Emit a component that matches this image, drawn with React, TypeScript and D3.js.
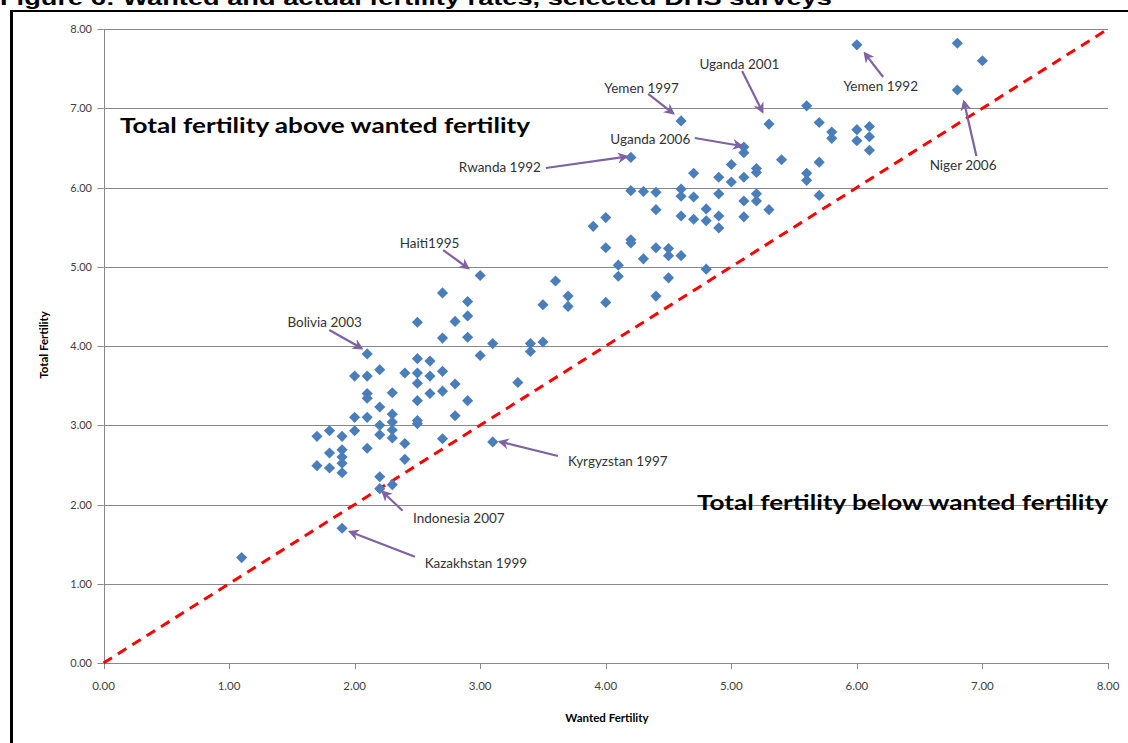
import React from "react";
import * as d3 from "d3";

// ---------- data ----------
const wantedFertility: number[] = [
  1.1,
  1.7, 1.7,
  1.8, 1.8, 1.8,
  1.9, 1.9, 1.9, 1.9, 1.9, 1.9,
  2.0, 2.0, 2.0,
  2.1, 2.1, 2.1, 2.1, 2.1, 2.1,
  2.2, 2.2, 2.2, 2.2, 2.2, 2.2,
  2.3, 2.3, 2.3, 2.3, 2.3, 2.3,
  2.4, 2.4, 2.4,
  2.5, 2.5, 2.5, 2.5, 2.5, 2.5, 2.5,
  2.6, 2.6, 2.6,
  2.7, 2.7, 2.7, 2.7, 2.7,
  2.8, 2.8, 2.8,
  2.9, 2.9, 2.9, 2.9,
  3.0, 3.0,
  3.1, 3.1,
  3.3,
  3.4, 3.4,
  3.5, 3.5,
  3.6,
  3.7, 3.7,
  3.9,
  4.0, 4.0, 4.0,
  4.1, 4.1,
  4.2, 4.2, 4.2, 4.2,
  4.3, 4.3,
  4.4, 4.4, 4.4, 4.4,
  4.5, 4.5, 4.5,
  4.6, 4.6, 4.6, 4.6, 4.6,
  4.7, 4.7, 4.7,
  4.8, 4.8, 4.8,
  4.9, 4.9, 4.9, 4.9,
  5.0, 5.0,
  5.1, 5.1, 5.1, 5.1, 5.1,
  5.2, 5.2, 5.2, 5.2,
  5.3, 5.3,
  5.4,
  5.6, 5.6, 5.6,
  5.7, 5.7, 5.7,
  5.8, 5.8,
  6.0, 6.0, 6.0,
  6.1, 6.1, 6.1,
  6.8, 6.8,
  7.0,
];

const totalFertility: number[] = [
  1.33,
  2.86, 2.49,
  2.93, 2.65, 2.46,
  2.86, 2.69, 2.60, 2.52, 2.40, 1.70,
  3.62, 3.10, 2.93,
  3.90, 3.62, 3.40, 3.34, 3.10, 2.71,
  3.70, 3.23, 3.00, 2.88, 2.35, 2.20,
  3.41, 3.14, 3.04, 2.94, 2.84, 2.25,
  3.66, 2.77, 2.57,
  4.30, 3.84, 3.66, 3.53, 3.31, 3.06, 3.02,
  3.81, 3.62, 3.40,
  4.67, 4.10, 3.68, 3.43, 2.83,
  4.31, 3.52, 3.12,
  4.56, 4.38, 4.11, 3.31,
  4.89, 3.88,
  4.03, 2.79,
  3.54,
  4.03, 3.93,
  4.52, 4.05,
  4.82,
  4.63, 4.50,
  5.51,
  5.62, 5.24, 4.55,
  5.02, 4.88,
  6.38, 5.96, 5.34, 5.30,
  5.95, 5.10,
  5.94, 5.72, 5.24, 4.63,
  5.23, 5.14, 4.86,
  6.84, 5.98, 5.89, 5.64, 5.14,
  6.18, 5.88, 5.60,
  5.73, 5.58, 4.97,
  6.13, 5.92, 5.64, 5.49,
  6.29, 6.07,
  6.51, 6.44, 6.13, 5.83, 5.63,
  6.24, 6.19, 5.92, 5.83,
  6.80, 5.72,
  6.35,
  7.03, 6.18, 6.09,
  6.82, 6.32, 5.90,
  6.70, 6.62,
  7.80, 6.73, 6.59,
  6.77, 6.64, 6.47,
  7.82, 7.23,
  7.60,
];

const xTicks: number[] = [0, 1, 2, 3, 4, 5, 6, 7, 8];
const yTicks: number[] = [0, 1, 2, 3, 4, 5, 6, 7, 8];

// survey labels: label, text anchor (data units), arrow start and arrow tip (data units)
const annotLabels: string[] = [
  "Haiti1995", "Bolivia 2003", "Yemen 1997", "Uganda 2001", "Uganda 2006",
  "Rwanda 1992", "Yemen 1992", "Niger 2006", "Kyrgyzstan 1997",
  "Indonesia 2007", "Kazakhstan 1999",
];
const annotText: [number, number][] = [
  [2.597, 5.237], [1.761, 4.236], [4.285, 7.196], [5.064, 7.492], [4.355, 6.549],
  [3.157, 6.196], [6.19, 7.214], [6.846, 6.221], [4.096, 2.486],
  [2.83, 1.767], [2.966, 1.199],
];
const annotFrom: [number, number][] = [
  [2.705, 5.211], [1.798, 4.202], [4.338, 7.18], [5.086, 7.47], [4.709, 6.625],
  [3.523, 6.246], [6.209, 7.394], [6.952, 6.397], [3.619, 2.612],
  [2.382, 1.922], [2.48, 1.341],
];
const annotTo: [number, number][] = [
  [2.904, 4.981], [2.056, 3.971], [4.537, 6.936], [5.248, 6.956], [5.081, 6.524],
  [4.166, 6.389], [6.063, 7.693], [6.853, 7.083], [3.157, 2.792],
  [2.223, 2.161], [1.963, 1.657],
];

const titleText = "Figure 6: Wanted and actual fertility rates, selected DHS surveys";
const aboveText = "Total fertility above wanted fertility";
const belowText = "Total fertility below wanted fertility";
const xTitle = "Wanted Fertility";
const yTitle = "Total Fertility";

// ---------- chart ----------
const W = 1128;
const H = 743;
const FONT = "Lato, 'Open Sans', sans-serif";

export default function App() {
  const x = d3.scaleLinear().domain([0, 8]).range([103.5, 1108]);
  const y = d3.scaleLinear().domain([0, 8]).range([663, 29]);
  const fmt = d3.format(".2f");
  const diamond = d3.symbol().type(d3.symbolSquare).size(62)() as string;
  const refLine = d3.line<number>().x((d) => x(d)).y((d) => y(d))([0, 8]) as string;

  const gridColor = "#888888";
  const arrowColor = "#7e62a1";

  return (
    <div style={{ position: "absolute", left: 0, top: 0, width: W, height: H, overflow: "hidden", background: "#fff" }}>
      <svg width={W} height={H} style={{ display: "block" }}>
        <defs>
          <marker id="ah" viewBox="0 0 10 10" refX="8" refY="5" markerWidth="5" markerHeight="5" orient="auto" markerUnits="strokeWidth">
            <path d="M0,0 L10,5 L0,10 L3,5 Z" fill={arrowColor} />
          </marker>
        </defs>

        {/* clipped figure title */}
        <text x={0} y={5} fontFamily="'Liberation Sans', Arial, sans-serif" fontWeight="bold" fontSize={21}
          textLength={832} lengthAdjust="spacingAndGlyphs" fill="#000">{titleText}</text>

        {/* frame */}
        <line x1={10} x2={W} y1={11} y2={11} stroke="#000" strokeWidth={2} />
        <line x1={11.5} x2={11.5} y1={10} y2={H} stroke="#000" strokeWidth={3} />

        {/* gridlines */}
        {yTicks.filter((t) => t > 0).map((t) => (
          <line key={"g" + t} x1={x(0)} x2={x(8)} y1={Math.round(y(t)) + 0.5} y2={Math.round(y(t)) + 0.5}
            stroke={gridColor} strokeWidth={1} />
        ))}

        {/* axes */}
        <line x1={Math.round(x(0)) + 0.5} x2={Math.round(x(0)) + 0.5} y1={y(8)} y2={y(0)} stroke={gridColor} strokeWidth={1} />
        <line x1={x(0)} x2={x(8)} y1={Math.round(y(0)) + 0.5} y2={Math.round(y(0)) + 0.5} stroke={gridColor} strokeWidth={1} />
        {yTicks.map((t) => (
          <g key={"yt" + t}>
            <line x1={x(0) - 6} x2={x(0)} y1={Math.round(y(t)) + 0.5} y2={Math.round(y(t)) + 0.5} stroke={gridColor} />
            <text x={92} y={y(t) + 4} textAnchor="end" fontFamily={FONT} fontSize={11} fill="#404040">{fmt(t)}</text>
          </g>
        ))}
        {xTicks.map((t) => (
          <g key={"xt" + t}>
            <line x1={Math.round(x(t)) + 0.5} x2={Math.round(x(t)) + 0.5} y1={y(0)} y2={y(0) + 6} stroke={gridColor} />
            <text x={x(t)} y={690} textAnchor="middle" fontFamily={FONT} fontSize={11.5} fill="#404040">{fmt(t)}</text>
          </g>
        ))}

        {/* axis titles */}
        <text x={607} y={722} textAnchor="middle" fontFamily={FONT} fontWeight="bold" fontSize={11.5} fill="#000">{xTitle}</text>
        <text transform={`translate(48,345) rotate(-90)`} textAnchor="middle" fontFamily={FONT} fontWeight="bold" fontSize={11.5} fill="#000">{yTitle}</text>

        {/* region labels */}
        <text x={120} y={133} fontFamily={FONT} fontWeight="bold" fontSize={21} fill="#000"
          textLength={410} lengthAdjust="spacingAndGlyphs">{aboveText}</text>
        <text x={697} y={510} fontFamily={FONT} fontWeight="bold" fontSize={21} fill="#000"
          textLength={411} lengthAdjust="spacingAndGlyphs">{belowText}</text>

        {/* equality line */}
        <path d={refLine} fill="none" stroke="#ff0000" strokeWidth={3} strokeDasharray="10,7" />

        {/* points */}
        {wantedFertility.map((w, i) => (
          <path key={"p" + i} d={diamond} transform={`translate(${x(w)},${y(totalFertility[i])}) rotate(45)`} fill="#4a7ebb" />
        ))}

        {/* annotations */}
        {annotLabels.map((lab, i) => (
          <g key={"a" + i}>
            <line x1={x(annotFrom[i][0])} y1={y(annotFrom[i][1])} x2={x(annotTo[i][0])} y2={y(annotTo[i][1])}
              stroke={arrowColor} strokeWidth={2.2} markerEnd="url(#ah)" />
            <text x={x(annotText[i][0])} y={y(annotText[i][1])} textAnchor="middle" fontFamily={FONT} fontSize={13.5} fill="#333">{lab}</text>
          </g>
        ))}
      </svg>
    </div>
  );
}
